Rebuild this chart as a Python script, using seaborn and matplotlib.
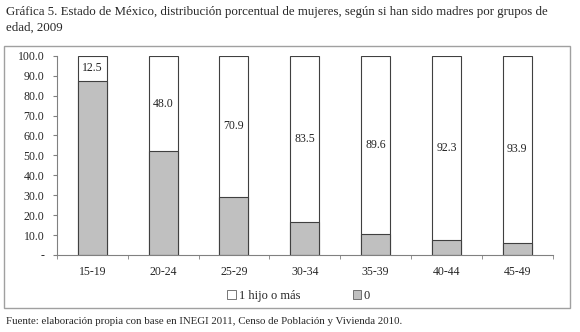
import pandas as pd
import matplotlib
matplotlib.use("Agg")
import matplotlib.pyplot as plt
import seaborn as sns
from matplotlib.patches import Patch, Rectangle

# datos
grupos = ["15-19", "20-24", "25-29", "30-34", "35-39", "40-44", "45-49"]
con_hijos = [12.5, 48.0, 70.9, 83.5, 89.6, 92.3, 93.9]   # 1 hijo o más
sin_hijos = [87.5, 52.0, 29.1, 16.5, 10.4, 7.7, 6.1]     # 0
ytick_vals = [0, 10, 20, 30, 40, 50, 60, 70, 80, 90, 100]

df = pd.DataFrame({"grupo": grupos, "uno_o_mas": con_hijos, "cero": sin_hijos})
df["total"] = df["uno_o_mas"] + df["cero"]

sns.set_style("white")
plt.rcParams["font.family"] = ["Liberation Serif", "DejaVu Serif"]

fig = plt.figure(figsize=(5.8, 3.32), dpi=100)
ax = fig.add_axes([0.098, 0.232, 0.855, 0.600])

edge = "#404040"
sns.barplot(data=df, x="grupo", y="total", color="white", edgecolor=edge,
            linewidth=0.8, width=0.41, saturation=1, ax=ax)
sns.barplot(data=df, x="grupo", y="cero", color="#c0c0c0", edgecolor=edge,
            linewidth=0.8, width=0.41, saturation=1, ax=ax)

# etiquetas en el segmento blanco
for i, row in df.iterrows():
    ax.text(i, row["cero"] + row["uno_o_mas"] / 2, f"{row['uno_o_mas']:.1f}",
            ha="center", va="center", fontsize=8.5, color="#222222")

ax.set_ylim(0, 100)
ax.set_xlim(-0.5, len(grupos) - 0.5)
ax.set_yticks(ytick_vals)
ax.set_yticklabels(["-"] + [f"{v:.1f}" for v in ytick_vals[1:]], fontsize=8.5)
ax.set_xticks(range(len(grupos)))
ax.set_xticklabels(grupos, fontsize=8.5)
ax.set_xticks([i - 0.5 for i in range(len(grupos) + 1)], minor=True)
ax.tick_params(axis="x", which="major", length=0, pad=8)
ax.tick_params(axis="x", which="minor", length=3, color="#808080", direction="out", bottom=True)
ax.tick_params(axis="y", length=3, color="#808080", direction="out", left=True, pad=6)
ax.set_xlabel("")
ax.set_ylabel("")
for s in ["top", "right"]:
    ax.spines[s].set_visible(False)
ax.spines["left"].set_color("#808080")
ax.spines["bottom"].set_color("#808080")
ax.spines["left"].set_linewidth(0.8)
ax.spines["bottom"].set_linewidth(0.8)

handles = [Patch(facecolor="white", edgecolor="#606060", linewidth=0.6, label="1 hijo o más"),
           Patch(facecolor="#c0c0c0", edgecolor="#606060", linewidth=0.6, label="0")]
fig.legend(handles=handles, loc="center", bbox_to_anchor=(0.515, 0.108), ncol=2,
           frameon=False, fontsize=9, handlelength=0.7, handleheight=0.7,
           handletextpad=0.2, columnspacing=4.2)

# marco de la grafica
fig.patches.append(Rectangle((4 / 580, 1 - 308 / 332), 566 / 580, 262 / 332,
                             transform=fig.transFigure, fill=False,
                             edgecolor="#a0a0a0", linewidth=1))

fig.text(6 / 580, 1 - 12 / 332,
         "Gráfica 5. Estado de México, distribución porcentual de mujeres, según si han sido madres por grupos de",
         fontsize=9.3, va="center", ha="left")
fig.text(6 / 580, 1 - 28 / 332, "edad, 2009", fontsize=9.3, va="center", ha="left")
fig.text(6 / 580, 1 - 322 / 332,
         "Fuente: elaboración propia con base en INEGI 2011, Censo de Población y Vivienda 2010.",
         fontsize=7.8, va="center", ha="left")

fig.savefig("out.png", dpi=100)
